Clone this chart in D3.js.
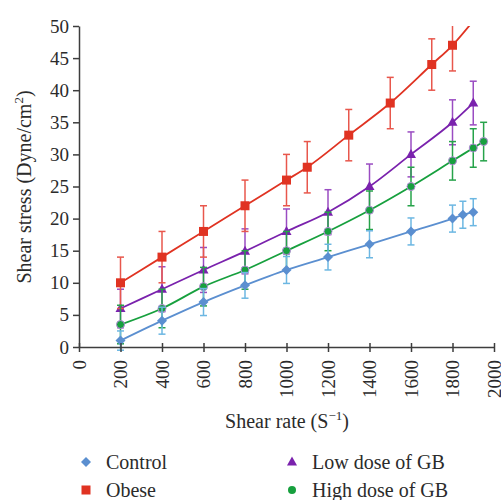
<!DOCTYPE html>
<html>
<head>
<meta charset="utf-8">
<script src="https://cdn.jsdelivr.net/npm/d3@7/dist/d3.min.js"></script>
<style>
  html, body { margin: 0; padding: 0; background: #fff; }
  svg { display: block; font-family: "Liberation Serif", "Times New Roman", serif; }
</style>
</head>
<body>
<svg id="chart" width="501" height="500"></svg>
<script>
// ---------- data ----------
const xTicks = [0, 200, 400, 600, 800, 1000, 1200, 1400, 1600, 1800, 2000];
const yTicks = [0, 5, 10, 15, 20, 25, 30, 35, 40, 45, 50];

const controlX   = [200, 400, 600, 800, 1000, 1200, 1400, 1600, 1800, 1850, 1900];
const controlY   = [1, 4.1, 7, 9.6, 12, 14, 16, 18, 20, 20.6, 21];
const controlErr = [1.5, 2.1, 2.1, 2, 2.1, 2, 2.1, 2.1, 2.1, 2.1, 2.1];

// last obese point (1900) lies above the plotted range; only its line segment shows
const obeseX   = [200, 400, 600, 800, 1000, 1100, 1300, 1500, 1700, 1800, 1900];
const obeseY   = [10, 14, 18, 22, 26, 28, 33, 38, 44, 47, 50.8];
const obeseErr = [4, 4, 4, 4, 4, 4, 4, 4, 4, 4, 0];

const lowX   = [200, 400, 600, 800, 1000, 1200, 1400, 1600, 1800, 1900];
const lowY   = [6, 9, 12, 14.9, 18, 21, 25, 30, 35, 38];
const lowErr = [3, 3.5, 3.5, 3.5, 3.5, 3.5, 3.5, 3.5, 3.5, 3.4];

const highX   = [200, 400, 600, 800, 1000, 1200, 1400, 1600, 1800, 1900, 1950];
const highY   = [3.5, 6, 9.4, 12, 15, 18, 21.3, 25, 29, 31, 32];
const highErr = [3, 3, 3, 3, 3, 3, 3, 3, 3, 3, 3];

const seriesNames = ["Control", "Obese", "Low dose of GB", "High dose of GB"];

// ---------- setup ----------
const svg = d3.select("#chart");
const x = d3.scaleLinear().domain([0, 2000]).range([79, 494]);
const y = d3.scaleLinear().domain([0, 50]).range([347, 26]);
const axisColor = "#3d3d3d";
const textColor = "#2b2b2b";

svg.append("defs").append("clipPath").attr("id", "plotclip")
  .append("rect").attr("x", 70).attr("y", 26).attr("width", 440).attr("height", 330);

const series = [
  { name: seriesNames[2], xs: lowX, ys: lowY, es: lowErr, line: "#7a22ad", err: "#9a4cc2", fill: "#7a22ad", shape: "triangle" },
  { name: seriesNames[1], xs: obeseX, ys: obeseY, es: obeseErr, line: "#e03322", err: "#e8574c", fill: "#e03322", shape: "square" },
  { name: seriesNames[3], xs: highX, ys: highY, es: highErr, line: "#17a03e", err: "#26a34a", fill: "#17a03e", shape: "circle" },
  { name: seriesNames[0], xs: controlX, ys: controlY, es: controlErr, line: "#5b8fd0", err: "#6cb7e2", fill: "#5b8fd0", shape: "diamond" }
];

function drawMarker(g, shape, cx, cy, fill) {
  if (shape === "square") {
    g.append("rect").attr("x", cx - 4.5).attr("y", cy - 4.5).attr("width", 9).attr("height", 9).attr("fill", fill);
  } else if (shape === "triangle") {
    g.append("path").attr("d", `M${cx},${cy - 5.5} L${cx + 5},${cy + 3.5} L${cx - 5},${cy + 3.5} Z`).attr("fill", fill);
  } else if (shape === "circle") {
    g.append("circle").attr("cx", cx).attr("cy", cy).attr("r", 4).attr("fill", fill)
      .attr("stroke", "#b48ad8").attr("stroke-width", 1);
  } else if (shape === "diamond") {
    g.append("path").attr("d", `M${cx},${cy - 5} L${cx + 5},${cy} L${cx},${cy + 5} L${cx - 5},${cy} Z`).attr("fill", fill);
  }
}

const plot = svg.append("g").attr("clip-path", "url(#plotclip)");

series.forEach(s => {
  const pts = s.xs.map((v, i) => ({ x: v, y: s.ys[i], e: s.es[i] }));
  const g = plot.append("g");
  // error bars
  pts.forEach(p => {
    if (!p.e) return;
    const cx = x(p.x);
    g.append("line").attr("x1", cx).attr("x2", cx).attr("y1", y(p.y + p.e)).attr("y2", y(p.y - p.e))
      .attr("stroke", s.err).attr("stroke-width", 1.5);
    [p.y + p.e, p.y - p.e].forEach(v => {
      g.append("line").attr("x1", cx - 3.5).attr("x2", cx + 3.5).attr("y1", y(v)).attr("y2", y(v))
        .attr("stroke", s.err).attr("stroke-width", 1.5);
    });
  });
  // line
  g.append("path").datum(pts)
    .attr("d", d3.line().x(d => x(d.x)).y(d => y(d.y)).curve(d3.curveMonotoneX))
    .attr("fill", "none").attr("stroke", s.line).attr("stroke-width", 1.8);
  // markers
  pts.forEach(p => { if (p.e) drawMarker(g, s.shape, x(p.x), y(p.y), s.fill); });
});

// ---------- axes ----------
const yAxis = svg.append("g").attr("transform", "translate(79,0)")
  .call(d3.axisLeft(y).tickValues(yTicks).tickFormat(d3.format("d")).tickSize(6).tickSizeOuter(0).tickPadding(4));
yAxis.select(".domain").attr("stroke", axisColor).attr("stroke-width", 1.5);
yAxis.selectAll(".tick line").attr("stroke", axisColor).attr("stroke-width", 1.5);
yAxis.selectAll(".tick text").attr("fill", textColor).attr("font-size", 19)
  .attr("font-family", "Liberation Serif, serif");

const xAxis = svg.append("g").attr("transform", "translate(0,347)")
  .call(d3.axisBottom(x).tickValues(xTicks).tickFormat(d3.format("d")).tickSize(5).tickSizeOuter(0));
xAxis.select(".domain").attr("stroke", axisColor).attr("stroke-width", 1.5);
xAxis.selectAll(".tick line").attr("stroke", axisColor).attr("stroke-width", 1.5).attr("y1", -4);
xAxis.selectAll(".tick text").attr("fill", textColor).attr("font-size", 19)
  .attr("font-family", "Liberation Serif, serif")
  .attr("transform", "rotate(-90)")
  .attr("text-anchor", "end").attr("x", -13).attr("y", 0).attr("dy", "0.33em");

// axis titles
const xt = svg.append("text").attr("x", 287).attr("y", 428).attr("text-anchor", "middle")
  .attr("font-size", 20).attr("fill", textColor);
xt.append("tspan").text("Shear rate (S");
xt.append("tspan").attr("font-size", 13).attr("dy", -8).text("\u22121");
xt.append("tspan").attr("dy", 8).text(")");

const yt = svg.append("text").attr("transform", "translate(31,187) rotate(-90)").attr("text-anchor", "middle")
  .attr("font-size", 20).attr("fill", textColor);
yt.append("tspan").text("Shear stress (Dyne/cm");
yt.append("tspan").attr("font-size", 13).attr("dy", -8).text("2");
yt.append("tspan").attr("dy", 8).text(")");

// ---------- legend ----------
const legendItems = [
  { name: seriesNames[0], shape: "diamond", fill: "#5b8fd0", mx: 86, my: 462, tx: 106, ty: 469 },
  { name: seriesNames[1], shape: "square", fill: "#e03322", mx: 86, my: 490, tx: 106, ty: 497 },
  { name: seriesNames[2], shape: "triangle", fill: "#7a22ad", mx: 292, my: 462, tx: 312, ty: 469 },
  { name: seriesNames[3], shape: "circle", fill: "#17a03e", mx: 292, my: 490, tx: 312, ty: 497 }
];
const lg = svg.append("g");
legendItems.forEach(l => {
  if (l.shape === "circle") {
    lg.append("circle").attr("cx", l.mx).attr("cy", l.my).attr("r", 4).attr("fill", l.fill);
  } else {
    drawMarker(lg, l.shape, l.mx, l.my, l.fill);
  }
  lg.append("text").attr("x", l.tx).attr("y", l.ty).attr("font-size", 20).attr("fill", textColor).text(l.name);
});
</script>
</body>
</html>
